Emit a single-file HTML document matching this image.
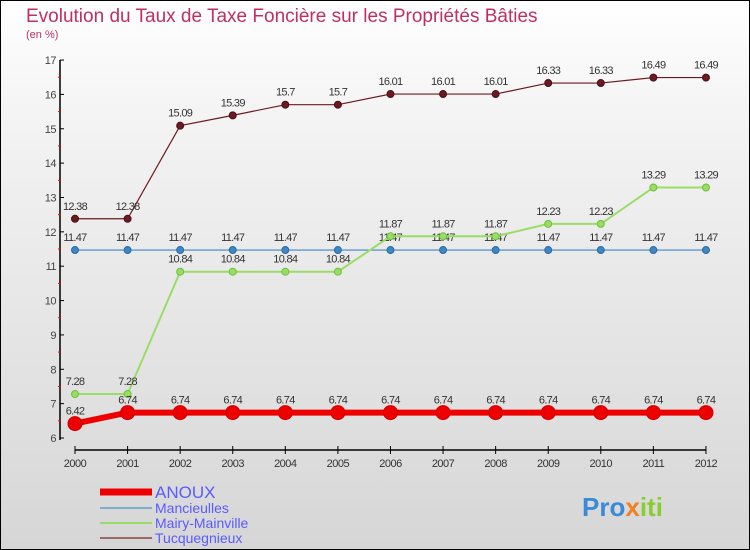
<!DOCTYPE html>
<html><head><meta charset="utf-8"><style>
body{margin:0}
#c{width:750px;height:550px;position:relative;box-sizing:border-box;border:1px solid #000;background:linear-gradient(#ffffff,#f4f4f4 20%,#d6d6d6);font-family:"Liberation Sans",sans-serif;overflow:hidden}
</style></head><body>
<div id="c">
<svg id="s" width="750" height="550" style="position:absolute;left:-1px;top:-1px">
<text x="26" y="22" font-size="19" fill="#c0305e">Evolution du Taux de Taxe Foncière sur les Propriétés Bâties</text>
<text x="26" y="38" font-size="11" fill="#c0305e">(en %)</text>
<g id="g"></g>
<text x="582" y="516" font-size="26" font-weight="bold"><tspan fill="#3a8ad8">Pro</tspan><tspan fill="#f08020">x</tspan><tspan fill="#88cc33">iti</tspan></text>
</svg>
</div>
<script>
const years=["2000","2001","2002","2003","2004","2005","2006","2007","2008","2009","2010","2011","2012"];
const anoux=[6.42,6.74,6.74,6.74,6.74,6.74,6.74,6.74,6.74,6.74,6.74,6.74,6.74];
const mancieulles=[11.47,11.47,11.47,11.47,11.47,11.47,11.47,11.47,11.47,11.47,11.47,11.47,11.47];
const mairy=[7.28,7.28,10.84,10.84,10.84,10.84,11.87,11.87,11.87,12.23,12.23,13.29,13.29];
const tucq=[12.38,12.38,15.09,15.39,15.7,15.7,16.01,16.01,16.01,16.33,16.33,16.49,16.49];
const yTicks=[6,7,8,9,10,11,12,13,14,15,16,17];
const NS="http://www.w3.org/2000/svg",g=document.getElementById('g');
const X=i=>75+i*52.58, Y=v=>438-(v-6)*34.36;
function mk(t,a,txt){const e=document.createElementNS(NS,t);for(const k in a)e.setAttribute(k,a[k]);if(txt!==undefined)e.textContent=txt;g.appendChild(e);return e;}
let e=mk('line',{x1:60,y1:60,x2:60,y2:440,stroke:'#000','stroke-width':1.5});


e=mk('line',{x1:75,y1:450,x2:706,y2:450,stroke:'#000','stroke-width':1.5});


yTicks.forEach(v=>{
 mk('line',{x1:60,y1:Y(v),x2:64,y2:Y(v),stroke:'#000'});
 if(v<17)mk('line',{x1:58,y1:Y(v+0.5),x2:61,y2:Y(v+0.5),stroke:'#f00'});
 e=mk('text',{x:56,y:Y(v)+4,'font-size':11,fill:'#444','text-anchor':'end','letter-spacing':'-0.5'},String(v));
 
 
});
years.forEach((y,i)=>{
 mk('line',{x1:X(i),y1:446,x2:X(i),y2:454,stroke:'#000'});
 e=mk('text',{x:X(i),y:467,'font-size':11,fill:'#333','text-anchor':'middle','letter-spacing':'-0.5'},y);
 
 
});
function series(d,col,dark,w,r,name){
 e=mk('polyline',{points:d.map((v,i)=>X(i)+','+Y(v)).join(' '),fill:'none',stroke:col,'stroke-width':w});
 
 
 d.forEach((v,i)=>{
  e=mk('circle',{cx:X(i),cy:Y(v),r:r,fill:col,stroke:dark,'stroke-width':1});
  
  
  e=mk('text',{x:X(i),y:Y(v)-9,'font-size':11,fill:'#333','text-anchor':'middle','letter-spacing':'-0.7'},String(v));
  
  
 });
}
series(tucq,'#6b1a22','#4a0f15',1.2,3.5,'tucquegnieux');
series(mancieulles,'#3f86c4','#2a6aa0',1.2,3.5,'mancieulles');
series(mairy,'#99dd66','#6fbf3a',2,3.5,'mairy-mainville');
series(anoux,'#ee0000','#cc0000',6,7,'anoux');
const leg=[['ANOUX','#ee0000',7,14],['Mancieulles','#7aaed0',2,11],['Mairy-Mainville','#99dd66',2,11],['Tucquegnieux','#9a6a6a',2,11]];
leg.forEach((l,i)=>{
 const yy=[492,508,523,538][i];
 mk('line',{x1:100,y1:yy,x2:152,y2:yy,stroke:l[1],'stroke-width':l[2]});
 e=mk('text',{x:155,y:yy+(i?5:6),'font-size':l[3]+3,fill:'#5a5aff'},l[0]);
 
 
});
</script>
</body></html>
